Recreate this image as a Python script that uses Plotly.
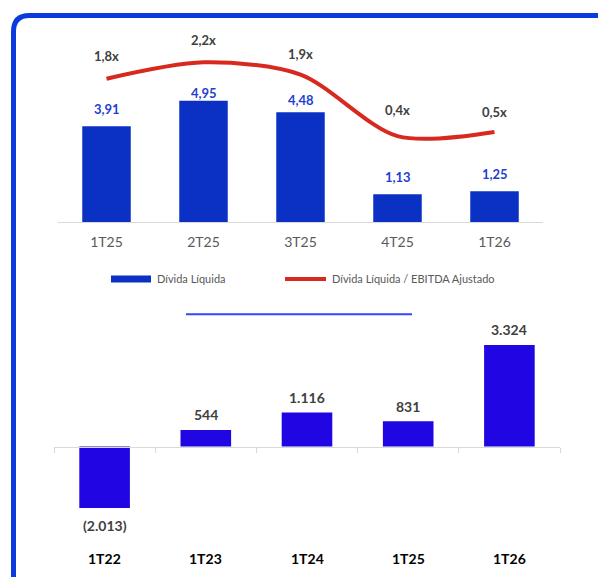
import plotly.graph_objects as go

# ---------------- data ----------------
top_categories = ["1T25", "2T25", "3T25", "4T25", "1T26"]
divida_liquida = [3.91, 4.95, 4.48, 1.13, 1.25]
alavancagem = [1.8, 2.2, 1.9, 0.4, 0.5]

bottom_categories = ["1T22", "1T23", "1T24", "1T25", "1T26"]
bottom_values = [-2013, 544, 1116, 831, 3324]

legend_labels = ["Dívida Líquida", "Dívida Líquida / EBITDA Ajustado"]

# ---------------- styles / positions ----------------
W, H = 598, 577
FONT = "Lato"
BAR_TOP = "#0b30c4"
BAR_BOT = "#1f06e2"
RED = "#d7291f"
LBL_BLUE = "#1f3fcf"
DARK = "#404040"
GRAY = "#595959"
AXIS = "#d9d9d9"
BORDER = "#0b3bdc"

bar_label_shift = [17, 8, 12, 17, 17]
line_label_shift = [23, 22, 21, 26, 20]


def px(x):
    return x / W


def py(y):
    return 1 - y / H


def fmt_dec(v):
    return f"{v:.2f}".replace(".", ",")


def fmt_x(v):
    return f"{v:.1f}".replace(".", ",") + "x"


def fmt_int(v):
    s = f"{abs(v):,}".replace(",", ".")
    return f"({s})" if v < 0 else s


fig = go.Figure()

# top chart geometry
top_base, top_top = 222, 30
top_ppu = 24.5
line_ppu = 41.0
line_zero = 132 + 0.5 * line_ppu

fig.add_trace(go.Bar(
    x=top_categories, y=divida_liquida, marker=dict(color=BAR_TOP, line=dict(width=0)),
    width=0.5, xaxis="x", yaxis="y", showlegend=False, hoverinfo="skip"))
fig.add_trace(go.Scatter(
    x=top_categories, y=alavancagem, mode="lines",
    line=dict(color=RED, width=4, shape="spline", smoothing=0.85),
    xaxis="x", yaxis="y3", showlegend=False, hoverinfo="skip"))

# bottom chart geometry
bot_zero = 446.5
bot_ppu = 101.5 / 3324
bot_top, bot_bottom = 330, 525

fig.add_trace(go.Bar(
    x=bottom_categories, y=bottom_values, marker=dict(color=BAR_BOT, line=dict(width=0)),
    width=0.5, xaxis="x2", yaxis="y2", showlegend=False, hoverinfo="skip"))

annotations = []
for c, v, s in zip(top_categories, divida_liquida, bar_label_shift):
    annotations.append(dict(x=c, y=v, xref="x", yref="y", text=f"<b>{fmt_dec(v)}</b>",
                            yshift=s, showarrow=False, yanchor="middle",
                            font=dict(family=FONT, size=13, color=LBL_BLUE)))
for c, v, s in zip(top_categories, alavancagem, line_label_shift):
    annotations.append(dict(x=c, y=v, xref="x", yref="y3", text=f"<b>{fmt_x(v)}</b>",
                            yshift=s, showarrow=False, yanchor="middle",
                            font=dict(family=FONT, size=13, color=DARK)))
for c, v in zip(bottom_categories, bottom_values):
    annotations.append(dict(x=c, y=v, xref="x2", yref="y2", text=f"<b>{fmt_int(v)}</b>",
                            yshift=15 if v >= 0 else -18, showarrow=False, yanchor="middle",
                            font=dict(family=FONT, size=14, color=DARK)))
for c in bottom_categories:
    annotations.append(dict(x=c, y=py(558), xref="x2", yref="paper", text=f"<b>{c}</b>",
                            showarrow=False, yanchor="middle",
                            font=dict(family=FONT, size=14, color="#000000")))

# legend (manual)
annotations.append(dict(x=px(155), y=py(279), xref="paper", yref="paper", text=legend_labels[0],
                        showarrow=False, xanchor="left", yanchor="middle",
                        font=dict(family=FONT, size=11, color=GRAY)))
annotations.append(dict(x=px(330), y=py(279), xref="paper", yref="paper", text=legend_labels[1],
                        showarrow=False, xanchor="left", yanchor="middle",
                        font=dict(family=FONT, size=11, color=GRAY)))

shapes = [
    dict(type="rect", xref="paper", yref="paper", x0=px(111), x1=px(151), y0=py(282.5), y1=py(275.5),
         fillcolor=BAR_TOP, line=dict(width=0)),
    dict(type="line", xref="paper", yref="paper", x0=px(285), x1=px(326), y0=py(279), y1=py(279),
         line=dict(color=RED, width=4)),
    dict(type="line", xref="paper", yref="paper", x0=px(186), x1=px(412), y0=py(314.3), y1=py(314.3),
         line=dict(color="#3344ff", width=2)),
]
R = 16
bx, by = 13.5, 15.5
path = (f"M {px(bx)},{py(H + 10)} L {px(bx)},{py(by + R)} "
        f"Q {px(bx)},{py(by)} {px(bx + R)},{py(by)} L {px(W + 10)},{py(by)}")
shapes.append(dict(type="path", xref="paper", yref="paper", path=path,
                   line=dict(color=BORDER, width=5)))

fig.update_layout(
    width=W, height=H, margin=dict(l=0, r=0, t=0, b=0),
    paper_bgcolor="white", plot_bgcolor="white",
    font=dict(family=FONT),
    showlegend=False,
    bargap=0.5,
    xaxis=dict(domain=[px(58), px(543)], type="category", range=[-0.5, 4.5],
               showline=True, linecolor=AXIS, linewidth=1, ticks="", showgrid=False,
               tickfont=dict(family=FONT, size=14, color=GRAY), anchor="y",
               ticklabelstandoff=7, fixedrange=True),
    yaxis=dict(domain=[py(top_base), py(top_top)],
               range=[0, (top_base - top_top) / top_ppu], visible=False, anchor="x"),
    yaxis3=dict(domain=[py(top_base), py(top_top)], overlaying="y",
                range=[-(top_base - line_zero) / line_ppu, (line_zero - top_top) / line_ppu],
                visible=False, anchor="x"),
    xaxis2=dict(domain=[px(54), px(560)], type="category", range=[-0.5, 4.5],
                anchor="free", position=py(bot_zero),
                showline=True, linecolor=AXIS, linewidth=1, showgrid=False,
                ticks="outside", tickson="boundaries", ticklen=5, tickcolor=AXIS, tickwidth=1,
                showticklabels=False),
    yaxis2=dict(domain=[py(bot_bottom), py(bot_top)],
                range=[-(bot_bottom - bot_zero) / bot_ppu, (bot_zero - bot_top) / bot_ppu],
                visible=False, anchor="x2"),
    annotations=annotations,
    shapes=shapes,
)

fig.write_html("out.html")
